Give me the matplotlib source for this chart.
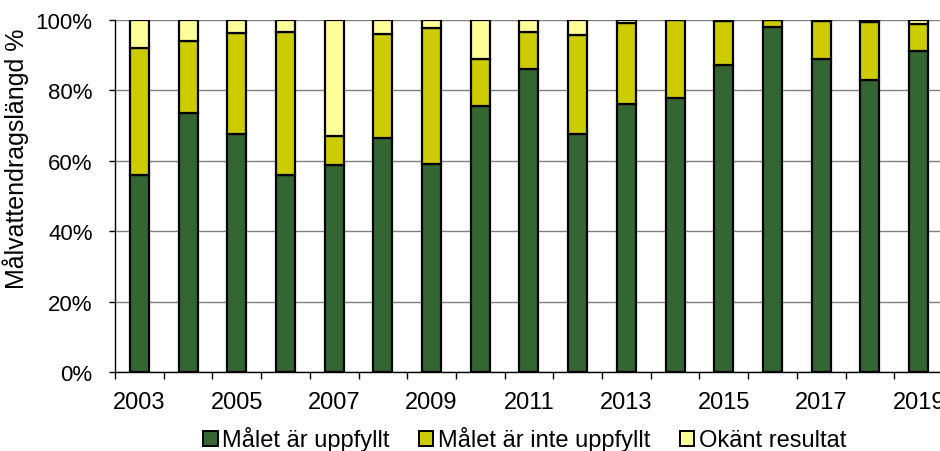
import matplotlib
matplotlib.use("Agg")
import matplotlib.pyplot as plt
import numpy as np
from matplotlib.patches import Patch

plt.rcParams['font.family'] = ['Liberation Sans', 'DejaVu Sans']

years = list(range(2003, 2020))
uppfyllt = [56.0, 73.4, 67.6, 55.9, 58.8, 66.4, 59.0, 75.4, 85.9, 67.6, 76.1, 77.7, 87.2, 97.8, 88.7, 82.9, 91.1]
inte_uppfyllt = [35.9, 20.4, 28.6, 40.6, 8.1, 29.6, 38.7, 13.3, 10.6, 28.1, 22.8, 22.3, 12.5, 2.2, 10.8, 16.5, 7.5]
okant = [8.1, 6.2, 3.8, 3.5, 33.1, 4.0, 2.3, 11.3, 3.5, 4.3, 1.1, 0.0, 0.3, 0.0, 0.5, 0.6, 1.4]

series_names = ["Målet är uppfyllt", "Målet är inte uppfyllt", "Okänt resultat"]
colors = ["#336633", "#CCCC00", "#FFFF99"]
ytick_vals = [0, 20, 40, 60, 80, 100]

fig = plt.figure(figsize=(9.4, 4.52), dpi=100)
ax = fig.add_axes([0.1223, 0.1737, 0.8809, 0.7809])

x = np.arange(len(years))
g = np.array(uppfyllt)
y = np.array(inte_uppfyllt)
o = np.array(okant)
w = 0.39
lw = 1.6
ax.bar(x, g, w, color=colors[0], edgecolor='black', linewidth=lw, zorder=3)
ax.bar(x, y, w, bottom=g, color=colors[1], edgecolor='black', linewidth=lw, zorder=3)
ax.bar(x, o, w, bottom=g + y, color=colors[2], edgecolor='black', linewidth=lw, zorder=3)

ax.set_xlim(-0.5, len(years) - 0.5)
ax.set_ylim(0, 100)
ax.set_yticks(ytick_vals)
ax.set_yticklabels([f"{v}%" for v in ytick_vals], fontsize=16)
ax.yaxis.grid(True, color='#808080', linewidth=1.0)
ax.set_axisbelow(True)

ax.set_xticks(x)
ax.set_xticklabels([str(yr) if i % 2 == 0 else "" for i, yr in enumerate(years)], fontsize=17)
ax.set_xticks(np.arange(-0.5, len(years), 1.0), minor=True)
ax.tick_params(axis='x', which='major', length=0, pad=13)
ax.tick_params(axis='x', which='minor', length=5, width=1, color='black')
ax.tick_params(axis='y', length=4, width=1, color='black', pad=12)

for s in ['top', 'right']:
    ax.spines[s].set_visible(False)
ax.spines['left'].set_color('black')
ax.spines['bottom'].set_color('black')
ax.spines['left'].set_linewidth(1)
ax.spines['bottom'].set_linewidth(1)

ax.set_ylabel("Målvattendragslängd %", fontsize=18)
ax.yaxis.set_label_coords(-0.104, 0.608)

handles = [Patch(facecolor=c, edgecolor='black', linewidth=1.4) for c in colors]
ax.legend(handles, series_names, loc='center', bbox_to_anchor=(0.495, -0.188), ncol=3,
          frameon=False, fontsize=17, handlelength=0.6, handleheight=0.6,
          handletextpad=0.2, columnspacing=1.25, borderaxespad=0)

fig.savefig("out.png", dpi=100)
